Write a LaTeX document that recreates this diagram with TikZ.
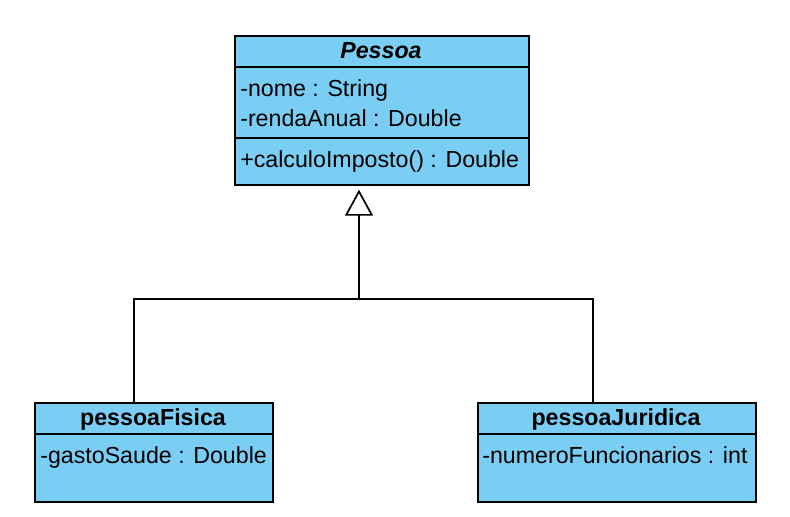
\documentclass[tikz,border=0pt]{standalone}
\usepackage{fontspec}
\setmainfont{Liberation Sans}
\usetikzlibrary{arrows.meta, positioning}
\definecolor{umlblue}{RGB}{122,206,244}
\newcommand{\umlfont}{\fontsize{16.5}{20}\selectfont}
\tikzset{
    classbox/.style={rectangle, draw, line width=1.2pt, fill=umlblue, inner sep=0pt, anchor=north west},
    sepline/.style={line width=1.2pt},
    classname/.style={font=\umlfont\bfseries, anchor=base, inner sep=0pt},
    member/.style={font=\umlfont, anchor=base west, inner sep=0pt},
    inherit/.style={line width=1.2pt, -{Triangle[open, length=0.65cm, width=0.7cm, line width=1.2pt]}, shorten >=0.1cm},
    link/.style={line width=1.2pt}
}

\begin{document}
\begin{tikzpicture}[x=0.025cm, y=-0.025cm]
        \useasboundingbox (0,0) rectangle (790,517);

        % Pessoa - top class
        \node (pessoa) [classbox, minimum width=7.35cm, minimum height=3.725cm] at (234,35) {};
        \draw[sepline] (pessoa.west |- 0,67) -- (pessoa.east |- 0,67);
        \draw[sepline] (pessoa.west |- 0,138) -- (pessoa.east |- 0,138);
        \node[classname, font=\umlfont\bfseries\itshape] (t_pessoa) at (381,59) {Pessoa};
        \node[member] (a_nome) at (240,97) {-nome : String};
        \node[member] (a_renda) at (240,127) {-rendaAnual : Double};
        \node[member] (m_imposto) at (240,168) {+calculoImposto() : Double};

        % pessoaFisica - bottom left
        \node (fisica) [classbox, minimum width=5.95cm, minimum height=2.475cm] at (34,402) {};
        \draw[sepline] (fisica.west |- 0,434) -- (fisica.east |- 0,434);
        \node[classname] (t_fisica) at (153,426) {pessoaFisica};
        \node[member] (a_gasto) at (40,464) {-gastoSaude : Double};

        % pessoaJuridica - bottom right
        \node (juridica) [classbox, minimum width=6.95cm, minimum height=2.475cm] at (477,402) {};
        \draw[sepline] (juridica.west |- 0,434) -- (juridica.east |- 0,434);
        \node[classname] (t_juridica) at (616,426) {pessoaJuridica};
        \node[member] (a_numero) at (482,464) {-numeroFuncionarios : int};

        % Generalization lines
        \coordinate (joint) at (359,299);
        \coordinate (j_fisica) at (134,299);
        \coordinate (j_juridica) at (593,299);
        \draw[link] (fisica.north -| j_fisica) -- (j_fisica) -- (j_juridica) -- (juridica.north -| j_juridica);
        \draw[inherit] (joint) -- (pessoa.south -| joint);

    \end{tikzpicture}
\end{document}
